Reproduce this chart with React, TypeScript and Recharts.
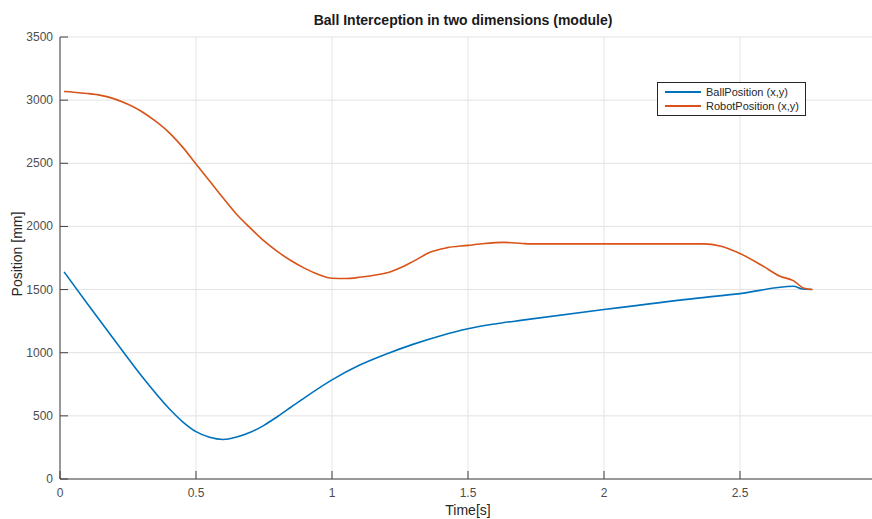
import React from "react";
import {
  LineChart,
  Line,
  XAxis,
  YAxis,
  CartesianGrid,
  Legend,
} from "recharts";

// time [s] / position [mm]
const ballTime = [0.015, 0.1, 0.2, 0.3, 0.4, 0.45, 0.5, 0.55, 0.6, 0.65, 0.7, 0.75, 0.8, 0.85, 0.9, 1.0, 1.1, 1.2, 1.3, 1.4, 1.5, 1.6, 1.7, 2.0, 2.353, 2.5, 2.696, 2.73, 2.763];
const ballPos = [1640, 1390, 1100, 815, 560, 455, 375, 330, 313, 333, 370, 425, 495, 570, 645, 785, 900, 990, 1068, 1135, 1190, 1228, 1258, 1342, 1434, 1468, 1526, 1505, 1500];

const robotTime = [0.015, 0.05, 0.1, 0.15, 0.2, 0.25, 0.3, 0.35, 0.4, 0.45, 0.5, 0.55, 0.6, 0.65, 0.7, 0.75, 0.8, 0.85, 0.9, 0.95, 1.0, 1.05, 1.1, 1.15, 1.213, 1.26, 1.3, 1.36, 1.42, 1.5, 1.56, 1.63, 1.7, 1.728, 1.949, 2.28, 2.365, 2.43, 2.5, 2.586, 2.647, 2.696, 2.733, 2.767];
const robotPos = [3068, 3063, 3053, 3038, 3010, 2967, 2910, 2835, 2745, 2630, 2495, 2360, 2225, 2095, 1987, 1885, 1800, 1728, 1668, 1620, 1590, 1588, 1597, 1612, 1640, 1680, 1725, 1795, 1830, 1850, 1865, 1874, 1865, 1862, 1862, 1862, 1862, 1843, 1785, 1684, 1605, 1571, 1513, 1500];

const xTicks = [0, 0.5, 1, 1.5, 2, 2.5, 3];
const yTicks = [0, 500, 1000, 1500, 2000, 2500, 3000, 3500];

const ballData = ballTime.map((t, i) => ({ t, v: ballPos[i] }));
const robotData = robotTime.map((t, i) => ({ t, v: robotPos[i] }));

const FONT = "'Liberation Sans', Arial, Helvetica, sans-serif";
const AXIS = "#404040";
const TXT = "#4d4d4d";

const LeftTick = (props: any) => {
  const { x, y, payload } = props;
  return (
    <g>
      <line x1={x + 7} x2={x + 15} y1={y} y2={y} stroke={AXIS} />
      <text x={x} y={y + 4} textAnchor="end" fontSize={12} fill={TXT} fontFamily={FONT}>
        {payload.value}
      </text>
    </g>
  );
};

const BottomTick = (props: any) => {
  const { x, y, payload } = props;
  if (payload.value === 3) return null;
  return (
    <g>
      <line x1={x} x2={x} y1={y - 6} y2={y - 14} stroke={AXIS} />
      <text x={x} y={y + 12} textAnchor="middle" fontSize={12} fill={TXT} fontFamily={FONT}>
        {payload.value}
      </text>
    </g>
  );
};

const TopTick = (props: any) => {
  const { x, y } = props;
  return <line x1={x} x2={x} y1={y} y2={y + 8} stroke={AXIS} />;
};

const RightTick = (props: any) => {
  const { x, y } = props;
  return <line x1={x - 8} x2={x} y1={y} y2={y} stroke={AXIS} />;
};

const YLabel = () => (
  <text
    x={18}
    y={254}
    transform="rotate(-90 18 254)"
    textAnchor="middle"
    dominantBaseline="middle"
    fontSize={14}
    fill="#262626"
    fontFamily={FONT}
  >
    Position [mm]
  </text>
);

const renderLegend = (props: any) => {
  const { payload } = props;
  return (
    <div
      style={{
        border: "1px solid #262626",
        background: "#fff",
        padding: "2px 6px 2px 7px",
        fontFamily: FONT,
        fontSize: 11,
        color: "#262626",
        lineHeight: "14px",
      }}
    >
      {payload.map((e: any) => (
        <div key={e.value} style={{ display: "flex", alignItems: "center" }}>
          <span style={{ display: "inline-block", width: 36, height: 2, background: e.color, marginRight: 5 }} />
          {e.value}
        </div>
      ))}
    </div>
  );
};

export default function App() {
  return (
    <div
      style={{
        position: "absolute",
        left: 0,
        top: 0,
        width: 872,
        height: 519,
        overflow: "hidden",
        background: "#fff",
      }}
    >
      <div
        style={{
          position: "absolute",
          left: 0,
          width: 926,
          top: 12,
          textAlign: "center",
          fontFamily: FONT,
          fontWeight: "bold",
          fontSize: 14,
          color: "#1a1a1a",
        }}
      >
        Ball Interception in two dimensions (module)
      </div>
      <LineChart
        width={880}
        height={519}
        margin={{ top: 37, right: 4, left: 0, bottom: 0 }}
        style={{ position: "absolute", left: 0, top: 0 }}
      >
        <CartesianGrid stroke="#e3e3e3" />
        <XAxis
          dataKey="t"
          type="number"
          domain={[0, 3]}
          ticks={xTicks}
          height={40}
          tickSize={0}
          tickMargin={6}
          tickLine={false}
          stroke={AXIS}
          tick={<BottomTick />}
          label={{
            value: "Time[s]",
            position: "insideBottom",
            offset: 4,
            fill: "#262626",
            fontSize: 14,
            fontFamily: FONT,
          }}
        />
        <XAxis
          xAxisId="top"
          orientation="top"
          type="number"
          domain={[0, 3]}
          ticks={xTicks}
          height={0}
          tickSize={0}
          tickMargin={0}
          tickLine={false}
          stroke={AXIS}
          tick={<TopTick />}
        />
        <YAxis
          type="number"
          domain={[0, 3500]}
          ticks={yTicks}
          width={60}
          tickSize={0}
          tickMargin={7}
          tickLine={false}
          stroke={AXIS}
          tick={<LeftTick />}
          label={<YLabel />}
        />
        <YAxis
          yAxisId="right"
          orientation="right"
          type="number"
          domain={[0, 3500]}
          ticks={yTicks}
          width={0}
          tickSize={0}
          tickMargin={0}
          tickLine={false}
          stroke={AXIS}
          tick={<RightTick />}
        />
        <Legend
          layout="vertical"
          align="center"
          verticalAlign="middle"
          content={renderLegend}
          wrapperStyle={{ left: 657, top: 82, width: "auto", bottom: "auto", right: "auto" }}
        />
        <Line
          data={ballData}
          dataKey="v"
          name="BallPosition (x,y)"
          type="monotone"
          stroke="#0072BD"
          strokeWidth={1.6}
          dot={false}
          isAnimationActive={false}
        />
        <Line
          data={robotData}
          dataKey="v"
          name="RobotPosition (x,y)"
          type="monotone"
          stroke="#D95319"
          strokeWidth={1.6}
          dot={false}
          isAnimationActive={false}
        />
      </LineChart>
    </div>
  );
}
